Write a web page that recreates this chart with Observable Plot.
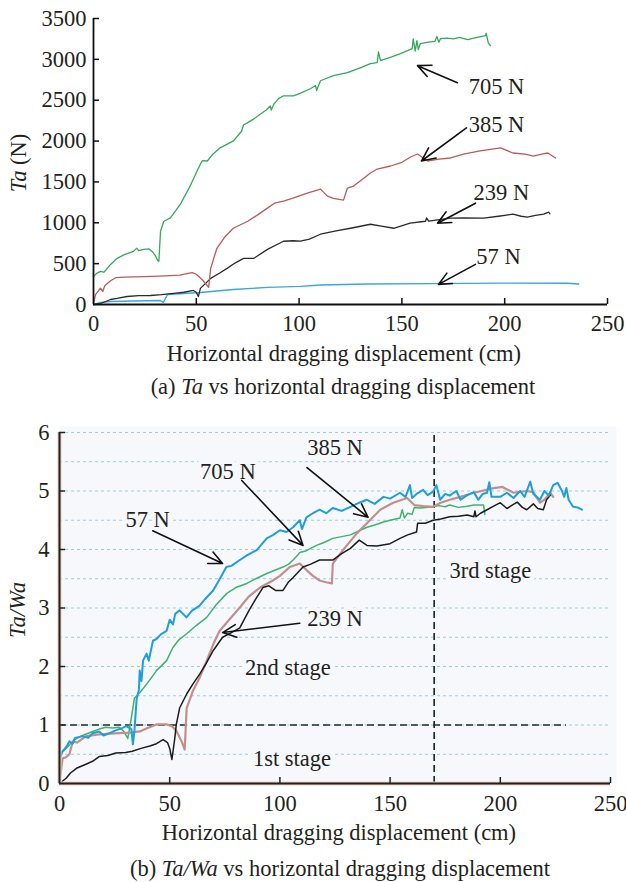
<!DOCTYPE html>
<html><head><meta charset="utf-8">
<script src="https://cdn.jsdelivr.net/npm/d3@7"></script>
<script src="https://cdn.jsdelivr.net/npm/@observablehq/plot@0.6"></script>
<style>
body{margin:0;background:#fff;}
#wrap{position:relative;width:626px;height:882px;}
#wrap svg{position:absolute;left:0;}
</style></head><body><div id="wrap"></div>
<script>
// ---------- data: (a) Ta vs displacement ----------
const xTicks = [0, 50, 100, 150, 200, 250];
const yTicksA = [0, 500, 1000, 1500, 2000, 2500, 3000, 3500];
const yTicksB = [0, 1, 2, 3, 4, 5, 6];
const gridB = [0.5, 1, 1.5, 2, 2.5, 3, 3.5, 4, 4.5, 5, 5.5, 6];

const taN705 = [[0,344],[1.5,380],[3.4,405],[5,395],[6,420],[8.3,490],[11.5,565],[15,610],[19.5,650],[21,690],[22,660],[24.4,675],[27,680],[28.5,650],[30,600],[31.2,540],[31.8,530],[32.6,896],[34.2,1019],[37.4,1060],[42.3,1228],[47,1450],[52,1719],[53,1760],[55.4,1756],[58,1840],[61.8,1920],[68.1,2002],[72,2120],[73,2200],[74,2210],[78,2272],[84,2380],[86,2430],[86.5,2380],[87.8,2456],[90,2520],[92.4,2554],[97.3,2554],[101,2590],[105.5,2640],[108,2680],[108.5,2620],[110.4,2738],[116.7,2800],[123.5,2837],[130,2900],[134.7,2947],[138,2960],[138.6,3090],[139.6,2984],[145,3030],[149.3,3070],[155,3131],[155.5,3250],[156.5,3100],[157.3,3230],[158,3120],[159,3193],[163,3210],[166,3220],[167,3280],[168,3210],[168.8,3254],[172,3260],[175,3250],[178,3270],[182,3242],[186,3265],[190.7,3291],[191,3320],[192,3205],[193,3168]];
const taN385 = [[0,12],[1,120],[3.4,200],[4.5,160],[5.5,230],[8.3,290],[11,330],[15,335],[25,340],[35,350],[42,360],[46,380],[48,390],[50,370],[53,300],[56,210],[57,442],[60,688],[64,830],[68,933],[75,1019],[80,1100],[84.6,1179],[88,1240],[92.4,1265],[97,1302],[104,1363],[110.4,1412],[113.8,1326],[116.7,1300],[121.6,1277],[123.5,1425],[126.5,1449],[134.7,1609],[138,1658],[144.5,1695],[150,1740],[154.2,1805],[157.6,1842],[162.4,1756],[168,1780],[173.6,1793],[180,1840],[188,1879],[198,1916],[204,1854],[210,1840],[214,1817],[218,1840],[221,1854],[224.7,1793]];
const taN239 = [[0,0],[3.4,12],[8.3,61],[11.5,74],[16.3,98],[22,108],[27.7,110],[33,120],[39,135],[44,150],[48.6,172],[50,150],[51,98],[52,197],[57,320],[61,380],[65,442],[69,510],[73,565],[78,565],[84.6,675],[92.4,774],[97,780],[100.7,775],[105,800],[110.4,860],[118,900],[125,933],[134.7,982],[140,960],[146,933],[154,995],[161.5,1019],[162,1060],[163,1020],[173.6,1056],[180,1060],[189.7,1056],[197,1080],[204,1105],[208,1080],[211,1068],[215,1090],[219,1105],[221.4,1130],[222,1110]];
const taN57 = [[0,0],[3.4,25],[8.3,37],[20,42],[32.6,49],[34,25],[36,123],[44,135],[52,147],[60,165],[68,184],[84.6,209],[100.7,222],[110.4,238],[133,250],[165,255],[198,262],[230.5,260],[236,250]];

const labelsA = [
  {x:196, y:2665, t:"705 N"}, {x:196, y:2198, t:"385 N"},
  {x:198.4, y:1363, t:"239 N"}, {x:197, y:589, t:"57 N"}];
const arrowsA = [
  {x1:177, y1:2714, x2:157.6, y2:2923}, {x1:181.4, y1:2161, x2:159.5, y2:1756},
  {x1:185.8, y1:1240, x2:167.3, y2:995}, {x1:185.8, y1:491, x2:167.8, y2:246}];

// ---------- data: (b) Ta/Wa vs displacement ----------
const rN57 = [[0,0.41],[1.4,0.55],[3,0.62],[4.5,0.72],[6,0.68],[7,0.78],[10.5,0.81],[13,0.78],[15,0.86],[18,0.89],[20,0.82],[22.7,0.86],[25,0.9],[28.6,0.95],[30.3,0.98],[32.6,0.93],[33.3,0.67],[34,0.9],[35,1.45],[36,1.6],[36.4,1.93],[37.2,1.75],[37.9,2.1],[39.5,2.22],[40.5,2.1],[42.4,2.44],[44,2.47],[46,2.55],[48.6,2.61],[50,2.8],[51.5,2.72],[52.5,2.9],[54.5,2.96],[57.6,2.84],[60,2.95],[63.6,3.04],[66,3.15],[69.7,3.3],[72,3.45],[75.7,3.7],[78,3.72],[81.8,3.82],[85,3.9],[89.5,3.99],[92,4.1],[94,4.19],[97,4.25],[100,4.33],[103,4.3],[106,4.38],[109,4.5],[110,4.35],[112,4.55],[115,4.62],[118,4.68],[121,4.62],[124,4.71],[128,4.66],[132,4.73],[136,4.8],[139.5,4.85],[143,4.78],[147,4.9],[150,4.87],[154.5,4.97],[157,4.9],[159,5.1],[160,4.88],[162,4.95],[165,5.02],[167,4.93],[169.5,4.99],[171,5.1],[172.7,4.85],[175,4.95],[177,4.92],[180,5.0],[182,4.85],[185,4.93],[188,4.98],[190,4.85],[192,4.95],[194,4.97],[195,5.15],[196,4.9],[200,4.9],[203,4.97],[206,4.88],[209,5.0],[211,4.9],[213.6,5.16],[215,4.95],[218,4.85],[220,5.0],[222,4.92],[224,5.1],[226,5.14],[228,5.0],[229,4.9],[230,5.05],[231,4.85],[233,4.73],[235,4.72],[237,4.68]];
const rN705 = [[0,0.5],[3,0.6],[5,0.68],[7.7,0.77],[11,0.83],[15,0.89],[18,0.93],[21,0.96],[24,0.95],[27,0.96],[29,0.9],[31,0.77],[32.6,1.12],[34,1.46],[36.4,1.55],[40,1.72],[44,1.93],[48.6,2.1],[51.4,2.32],[54,2.45],[57.7,2.56],[62,2.7],[66.8,2.84],[71,3.05],[75.9,3.25],[80,3.35],[85,3.42],[88,3.48],[94,3.59],[98,3.65],[101.4,3.7],[104,3.75],[106,3.82],[108,3.9],[109,3.95],[112,3.98],[116.6,4.07],[120,4.12],[124,4.19],[128,4.22],[132,4.25],[136,4.32],[139.5,4.38],[143,4.42],[147,4.47],[150,4.5],[154.5,4.54],[155.5,4.68],[156.5,4.54],[158,4.62],[160,4.6],[161,4.72],[163.6,4.71],[166,4.72],[169.5,4.73],[172,4.75],[175,4.73],[177,4.76],[181,4.72],[185,4.74],[188,4.76],[192.4,4.76],[193,4.6]];
const rN385 = [[0,0.03],[1.4,0.43],[3,0.45],[4.5,0.5],[6,0.72],[8,0.7],[12,0.81],[18,0.84],[27,0.86],[32,0.87],[36.4,0.89],[40,0.95],[44,1.01],[48.6,1.01],[51,0.98],[53,0.9],[55.4,0.72],[56.8,0.58],[57.7,1.29],[60.5,1.58],[63.5,1.8],[66.8,2.1],[70,2.4],[72.7,2.61],[77,2.8],[81.8,3.01],[86,3.2],[91,3.35],[96.8,3.47],[100,3.55],[104.5,3.7],[109,3.76],[112.3,3.64],[115,3.55],[118,3.47],[121,3.44],[123.6,3.42],[124,3.76],[128.6,3.99],[135,4.28],[139.5,4.45],[145.5,4.68],[151.4,4.8],[157.7,4.88],[161,4.76],[165,4.74],[169.5,4.73],[173,4.8],[177,4.85],[182,4.9],[188,4.97],[197,5.05],[201,5.07],[206,4.97],[212,5.0],[215,4.98],[218,4.8],[220,4.85],[222.7,4.97],[224,4.9]];
const rN239 = [[0,0],[3,0.09],[5,0.18],[7.7,0.26],[12,0.33],[15,0.38],[18,0.46],[22,0.48],[25.5,0.52],[30,0.53],[33,0.55],[37,0.6],[41,0.64],[44,0.68],[47,0.75],[49,0.7],[50,0.6],[51,0.41],[52.3,0.77],[53,1.01],[54.5,1.29],[57.7,1.53],[60.5,1.7],[63.6,1.87],[66.5,2.05],[69.7,2.27],[74,2.5],[78,2.58],[81.8,2.66],[86,2.96],[89,3.15],[92.3,3.35],[95,3.38],[98,3.3],[101.4,3.3],[104,3.45],[106,3.52],[110.5,3.7],[114,3.75],[118,3.82],[124,3.82],[128,3.93],[132,4.02],[136,4.16],[139.5,4.07],[144,4.06],[150,4.1],[154.5,4.19],[158,4.25],[162,4.3],[162.5,4.45],[166,4.45],[169.5,4.5],[173,4.52],[177,4.56],[181,4.57],[185,4.59],[188,4.56],[188.5,4.66],[189,4.56],[191,4.62],[194,4.68],[197,4.74],[200,4.8],[203,4.7],[205,4.75],[207.7,4.81],[210,4.72],[212,4.68],[215,4.78],[217,4.7],[219.5,4.68],[221,4.85],[222.7,4.93]];

const labelsB = [
  {x:40, y:4.5, t:"57 N"}, {x:76.4, y:5.32, t:"705 N"}, {x:125, y:5.74, t:"385 N"},
  {x:125, y:2.82, t:"239 N"}, {x:195.5, y:3.64, t:"3rd stage"},
  {x:103.6, y:1.97, t:"2nd stage"}, {x:105.5, y:0.43, t:"1st stage"}];
const arrowsB = [
  {x1:42.3, y1:4.32, x2:74, y2:3.76}, {x1:82.7, y1:5.18, x2:110.5, y2:4.07},
  {x1:112.3, y1:5.4, x2:140, y2:4.55}, {x1:109, y1:2.74, x2:74, y2:2.58}];
const stageY = 1, stageYEnd = 230, stageX = 170;

const FONT = "'Liberation Serif','Times New Roman',serif";
const INK = "#231f20";
const FS = 22.5;
const wrap = document.getElementById("wrap");
const px = d => d[0], py = d => d[1];
const plain = d => String(d);

// ---------- chart (a) ----------
const A = Plot.plot({
  width: 626, height: 405,
  marginLeft: 93, marginRight: 19, marginTop: 18, marginBottom: 101,
  style: {fontFamily: FONT, fontSize: FS + "px", color: INK, background: "transparent"},
  x: {domain: [0, 250], ticks: xTicks, tickFormat: plain, tickSize: 0, tickPadding: 11, label: null},
  y: {domain: [0, 3500], ticks: yTicksA, tickFormat: plain, tickSize: 0, tickPadding: 7, label: null},
  marks: [
    Plot.line(taN57, {x: px, y: py, stroke: "#3aa6dc", strokeWidth: 1.4}),
    Plot.line(taN239, {x: px, y: py, stroke: "#2b2b2b", strokeWidth: 1.3}),
    Plot.line(taN385, {x: px, y: py, stroke: "#b85a5c", strokeWidth: 1.3}),
    Plot.line(taN705, {x: px, y: py, stroke: "#35a85c", strokeWidth: 1.3}),
    Plot.ruleX(xTicks.slice(1), {x: d => d, y1: 0, y2: 0, insetBottom: 6, stroke: "#111", strokeWidth: 1.5}),
    Plot.ruleY(yTicksA.slice(1), {y: d => d, x1: 0, x2: 0, insetRight: -6, stroke: "#111", strokeWidth: 1.5}),
    Plot.ruleX([0], {stroke: "#111", strokeWidth: 1.8}),
    Plot.ruleY([0], {stroke: "#111", strokeWidth: 1.8}),
    Plot.arrow(arrowsA, {x1: "x1", y1: "y1", x2: "x2", y2: "y2", stroke: "#111", strokeWidth: 1.6, headLength: 14, headAngle: 50}),
    Plot.text(labelsA, {x: "x", y: "y", text: "t", fontSize: FS, fill: INK})
  ]
});
A.style.top = "0px";
wrap.appendChild(A);

// ---------- chart (b) ----------
const B = Plot.plot({
  width: 626, height: 477,
  marginLeft: 59, marginRight: 16, marginTop: 27, marginBottom: 99,
  style: {fontFamily: FONT, fontSize: FS + "px", color: INK, background: "transparent"},
  x: {domain: [0, 250], ticks: xTicks, tickFormat: plain, tickSize: 0, tickPadding: 12, label: null},
  y: {domain: [0, 6], ticks: yTicksB, tickFormat: plain, tickSize: 0, tickPadding: 10, label: null},
  marks: [
    Plot.frame({fill: "#f7f8fc", stroke: "none", insetTop: -6, insetRight: -6}),
    Plot.ruleY(gridB, {y: d => d, stroke: "#9fcae0", strokeWidth: 1.1, strokeDasharray: "3,3"}),
    Plot.ruleY([stageY], {y: d => d, x1: 0, x2: stageYEnd, stroke: "#1f2d31", strokeWidth: 1.7, strokeDasharray: "7,4"}),
    Plot.ruleX([stageX], {x: d => d, y1: 0, y2: 6, stroke: "#1f2d31", strokeWidth: 1.7, strokeDasharray: "7,4"}),
    Plot.text(labelsB, {x: "x", y: "y", text: "t", fontSize: FS, fill: "none", stroke: "#f7f8fc", strokeWidth: 8}),
    Plot.line(rN705, {x: px, y: py, stroke: "#3db46c", strokeWidth: 1.5}),
    Plot.line(rN385, {x: px, y: py, stroke: "#c28f8a", strokeWidth: 2.2}),
    Plot.line(rN239, {x: px, y: py, stroke: "#1c1c1c", strokeWidth: 1.5}),
    Plot.line(rN57, {x: px, y: py, stroke: "#1e9fdc", strokeWidth: 2}),
    Plot.ruleX([0], {stroke: "#f3c9b8", strokeWidth: 4}),
    Plot.ruleY([0], {stroke: "#f3c9b8", strokeWidth: 4}),
    Plot.ruleX(xTicks.slice(1), {x: d => d, y1: 0, y2: 0, insetBottom: 6, stroke: "#1a2526", strokeWidth: 1.5}),
    Plot.ruleY(yTicksB.slice(1), {y: d => d, x1: 0, x2: 0, insetRight: -6, stroke: "#1a2526", strokeWidth: 1.5}),
    Plot.ruleX([0], {stroke: "#1a2526", strokeWidth: 2}),
    Plot.ruleY([0], {stroke: "#1a2526", strokeWidth: 2}),
    Plot.arrow(arrowsB, {x1: "x1", y1: "y1", x2: "x2", y2: "y2", stroke: "#111", strokeWidth: 1.6, headLength: 14, headAngle: 50}),
    Plot.text(labelsB, {x: "x", y: "y", text: "t", fontSize: FS, fill: INK})
  ]
});
B.style.top = "405px";
wrap.appendChild(B);

// ---------- axis titles and captions (real text, mixed italics) ----------
function addText(svg, x, y, parts, rotate) {
  const t = d3.select(svg).append("text")
    .attr("x", x).attr("y", y).attr("dy", "0.35em")
    .attr("text-anchor", "middle")
    .attr("font-family", FONT).attr("font-size", FS).attr("fill", INK);
  if (rotate) t.attr("transform", `rotate(${rotate},${x},${y})`);
  for (const [s, it] of parts) t.append("tspan").attr("font-style", it ? "italic" : "normal").text(s);
}
addText(A, 18, 163, [["Ta", true], [" (N)", false]], -90);
addText(A, 344, 353, [["Horizontal dragging displacement (cm)", false]]);
addText(A, 343, 386, [["(a) ", false], ["Ta", true], [" vs horizontal dragging displacement", false]]);
addText(B, 17, 205, [["Ta/Wa", true]], -90);
addText(B, 339, 427, [["Horizontal dragging displacement (cm)", false]]);
addText(B, 340, 463, [["(b) ", false], ["Ta/Wa", true], [" vs horizontal dragging displacement", false]]);
</script></body></html>
